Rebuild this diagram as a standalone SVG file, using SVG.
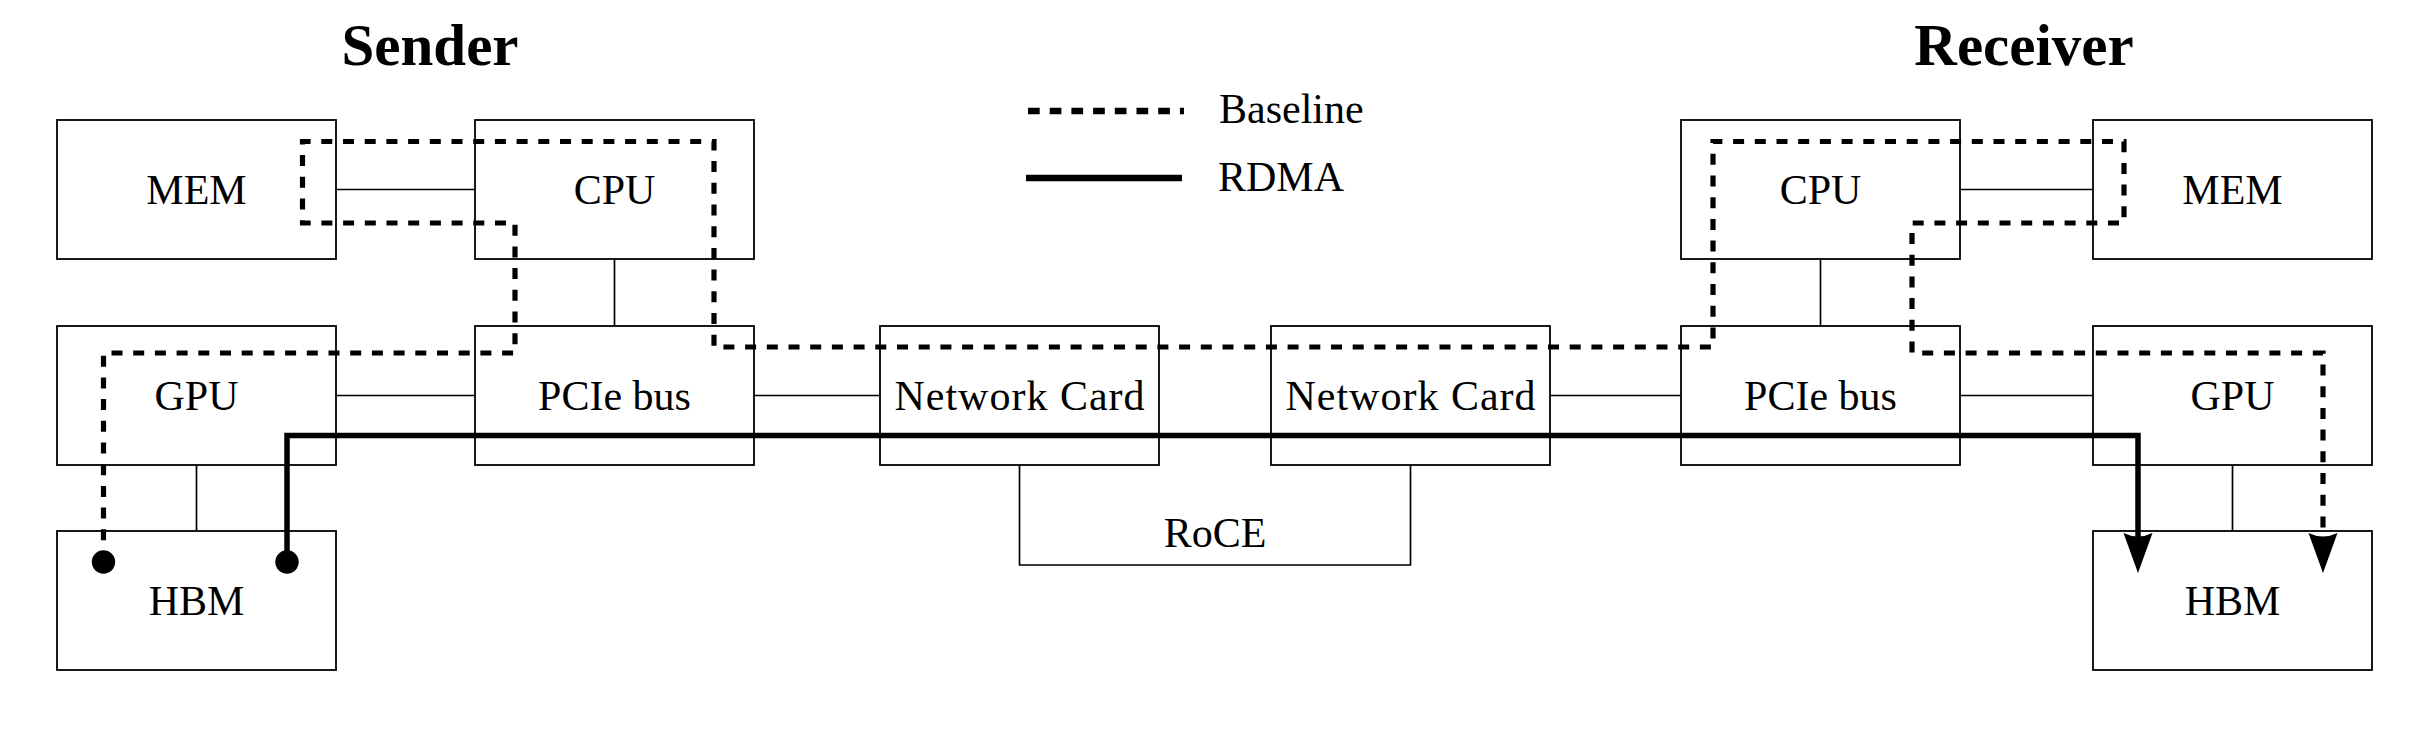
<svg xmlns="http://www.w3.org/2000/svg" width="2432" height="740" viewBox="0 0 2432 740">
<style>
.box{fill:#fff;stroke:#000;stroke-width:1.8}
.lbl{font-family:"Liberation Serif","Times New Roman",serif;font-size:42px;fill:#000;text-anchor:middle}
.title{font-family:"Liberation Serif","Times New Roman",serif;font-size:59px;font-weight:bold;fill:#000;text-anchor:middle}
.leg{font-family:"Liberation Serif","Times New Roman",serif;font-size:42px;fill:#000}
.thin{fill:none;stroke:#000;stroke-width:1.7}
.base{fill:none;stroke:#000;stroke-width:5.2;stroke-dasharray:11 10.7}
.rdma{fill:none;stroke:#000;stroke-width:5.5}
</style>
<defs>
<marker id="dot" markerUnits="userSpaceOnUse" markerWidth="30" markerHeight="30" refX="15" refY="15" viewBox="0 0 30 30" orient="auto">
<circle cx="15" cy="15" r="11.7" fill="#000"/>
</marker>
<marker id="arr" markerUnits="userSpaceOnUse" markerWidth="44" markerHeight="32" refX="4" refY="16" viewBox="0 0 44 32" orient="auto">
<path d="M0,1.5 Q7,16 0,30.5 L40,16 Z" fill="#000"/>
</marker>
</defs>
<rect width="2432" height="740" fill="#fff"/>

<text class="title" x="430" y="65">Sender</text>
<text class="title" x="2024" y="65">Receiver</text>

<g id="legend">
<line x1="1028" y1="111" x2="1184" y2="111" stroke="#000" stroke-width="6.5" stroke-dasharray="11.7 10"/>
<line x1="1026" y1="178" x2="1182" y2="178" stroke="#000" stroke-width="6.5"/>
<text class="leg" x="1219" y="123">Baseline</text>
<text class="leg" x="1218" y="191">RDMA</text>
</g>

<g id="connectors">
<line class="thin" x1="336" y1="189.5" x2="475" y2="189.5"/>
<line class="thin" x1="614.5" y1="259" x2="614.5" y2="326"/>
<line class="thin" x1="336" y1="395.5" x2="475" y2="395.5"/>
<line class="thin" x1="196.5" y1="465" x2="196.5" y2="531"/>
<line class="thin" x1="754" y1="395.5" x2="880" y2="395.5"/>
<polyline class="thin" points="1019.5,465 1019.5,565 1410.5,565 1410.5,465"/>
<text class="lbl" x="1215" y="547">RoCE</text>
<line class="thin" x1="1550" y1="395.5" x2="1681" y2="395.5"/>
<line class="thin" x1="1820.5" y1="259" x2="1820.5" y2="326"/>
<line class="thin" x1="1960" y1="189.5" x2="2093" y2="189.5"/>
<line class="thin" x1="1960" y1="395.5" x2="2093" y2="395.5"/>
<line class="thin" x1="2232.5" y1="465" x2="2232.5" y2="531"/>
</g>

<g id="mem-s"><rect class="box" x="57" y="120" width="279" height="139"/><text class="lbl" x="196.5" y="203.5">MEM</text></g>
<g id="cpu-s"><rect class="box" x="475" y="120" width="279" height="139"/><text class="lbl" x="614.5" y="203.5">CPU</text></g>
<g id="gpu-s"><rect class="box" x="57" y="326" width="279" height="139"/><text class="lbl" x="196.5" y="409.5">GPU</text></g>
<g id="pcie-s"><rect class="box" x="475" y="326" width="279" height="139"/><text class="lbl" x="614.5" y="409.5">PCIe bus</text></g>
<g id="hbm-s"><rect class="box" x="57" y="531" width="279" height="139"/><text class="lbl" x="196.5" y="614.5">HBM</text></g>
<g id="nic-s"><rect class="box" x="880" y="326" width="279" height="139"/><text class="lbl" x="1019.5" y="409.5" textLength="250" lengthAdjust="spacing">Network Card</text></g>
<g id="nic-r"><rect class="box" x="1271" y="326" width="279" height="139"/><text class="lbl" x="1410.5" y="409.5" textLength="250" lengthAdjust="spacing">Network Card</text></g>
<g id="pcie-r"><rect class="box" x="1681" y="326" width="279" height="139"/><text class="lbl" x="1820.5" y="409.5">PCIe bus</text></g>
<g id="cpu-r"><rect class="box" x="1681" y="120" width="279" height="139"/><text class="lbl" x="1820.5" y="203.5">CPU</text></g>
<g id="mem-r"><rect class="box" x="2093" y="120" width="279" height="139"/><text class="lbl" x="2232.5" y="203.5">MEM</text></g>
<g id="gpu-r"><rect class="box" x="2093" y="326" width="279" height="139"/><text class="lbl" x="2232.5" y="409.5">GPU</text></g>
<g id="hbm-r"><rect class="box" x="2093" y="531" width="279" height="139"/><text class="lbl" x="2232.5" y="614.5">HBM</text></g>

<g id="paths">
<path class="base" marker-start="url(#dot)" marker-end="url(#arr)" d="M103.5,562 V353 H515 V223 H302.5 V141.5 H714 V347 H1713 V141.5 H2124 V223 H1912 V353 H2323 V537"/>
<path class="rdma" marker-start="url(#dot)" marker-end="url(#arr)" d="M287,562 V435.5 H2138 V537"/>
</g>
</svg>
